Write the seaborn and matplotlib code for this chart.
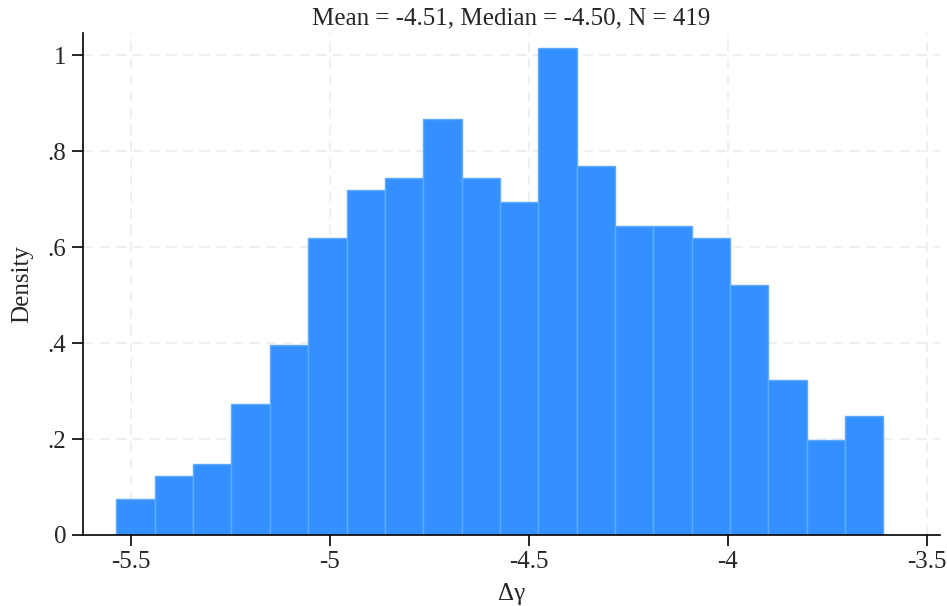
import numpy as np
import pandas as pd
import seaborn as sns
import matplotlib.pyplot as plt

sns.set_style("white")
plt.rcParams['font.family'] = ['Liberation Serif', 'DejaVu Serif']

# counts per bin (density * N * width)
counts = [3, 5, 6, 11, 16, 25, 29, 30, 35, 30, 28, 41, 31, 26, 26, 25, 21, 13, 8, 10]
bin_lo = -5.536
bin_hi = -3.609
n_obs = 419
xticks = [-5.5, -5, -4.5, -4, -3.5]
xtick_labels = ['-5.5', '-5', '-4.5', '-4', '-3.5']
yticks = [0, 0.2, 0.4, 0.6, 0.8, 1.0]
ytick_labels = ['0', '.2', '.4', '.6', '.8', '1']

edges = np.linspace(bin_lo, bin_hi, len(counts) + 1)
df = pd.DataFrame({'dg': (edges[:-1] + edges[1:]) / 2, 'n': counts})

fig = plt.figure(figsize=(9.47, 6.06), dpi=100)
ax = fig.add_axes([0.0876, 0.1172, 0.905, 0.8283])

ax.grid(True, color='#ececec', linestyle=(0, (6, 4)), linewidth=1.2)
ax.set_axisbelow(True)

sns.histplot(data=df, x='dg', weights='n', bins=list(edges), stat='density',
             color='#3590ff', edgecolor='#5eaaff', linewidth=1.0, alpha=1.0, ax=ax)

ax.set_xlim(-5.62, -3.467)
ax.set_ylim(0, 1.046)
ax.set_xticks(xticks)
ax.set_xticklabels(xtick_labels)
ax.set_yticks(yticks)
ax.set_yticklabels(ytick_labels)
ax.tick_params(axis='both', direction='out', length=8, width=1.2, color='black',
               labelsize=18, left=True, bottom=True)
ax.tick_params(axis='y', pad=4)

for s in ['top', 'right']:
    ax.spines[s].set_visible(False)
for s in ['left', 'bottom']:
    ax.spines[s].set_color('black')
    ax.spines[s].set_linewidth(1.2)

ax.set_xlabel('Δγ', fontsize=18, labelpad=7)
ax.set_ylabel('Density', fontsize=18, labelpad=10)
ax.set_title('Mean = -4.51, Median = -4.50, N = %d' % n_obs, fontsize=18, pad=6)

fig.savefig('out.png', dpi=100)
